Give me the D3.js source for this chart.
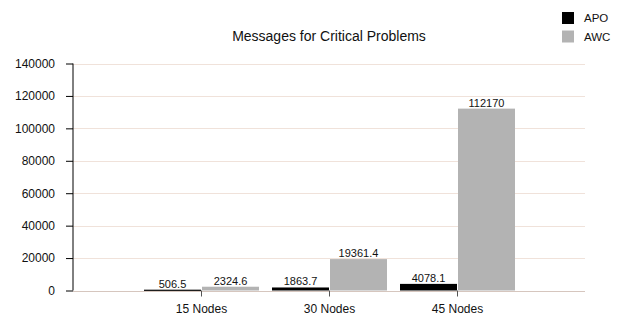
<!DOCTYPE html>
<html><head><meta charset="utf-8">
<script src="https://cdn.jsdelivr.net/npm/d3@7"></script>
<style>
body{margin:0;background:#fff;}
svg{display:block;font-family:"Liberation Sans",Arial,sans-serif;}
</style></head>
<body><svg id="chart" width="623" height="320"></svg>
<script>
const categories = ["15 Nodes", "30 Nodes", "45 Nodes"];
const seriesNames = ["APO", "AWC"];
const apoValues = [506.5, 1863.7, 4078.1];
const awcValues = [2324.6, 19361.4, 112170];
const yTicks = [0, 20000, 40000, 60000, 80000, 100000, 120000, 140000];
const colors = ["#000000", "#b3b3b3"];

const svg = d3.select("#chart");
const x = d3.scalePoint().domain(categories).range([73, 585]).padding(1);
const y = d3.scaleLinear().domain([0, 140000]).range([290.5, 63.5]);

// gridlines
svg.append("g").selectAll("line").data(yTicks).join("line")
  .attr("x1", 73).attr("x2", 585)
  .attr("y1", d => Math.round(y(d)) + 0.5).attr("y2", d => Math.round(y(d)) + 0.5)
  .attr("stroke", d => d === 0 ? "#d6c6be" : "#f0e2da").attr("stroke-width", 1);

// bars
const barW = 57;
const series = [apoValues, awcValues];
series.forEach((vals, si) => {
  const g = svg.append("g");
  g.selectAll("rect").data(vals).join("rect")
    .attr("x", (d, i) => si === 0 ? x(categories[i]) - barW : x(categories[i]) + 1)
    .attr("width", barW)
    .attr("y", d => y(d))
    .attr("height", d => Math.max(y(0) - y(d), 1.2))
    .attr("fill", colors[si]);
  g.selectAll("text").data(vals).join("text")
    .attr("x", (d, i) => si === 0 ? x(categories[i]) - barW / 2 : x(categories[i]) + 1 + barW / 2)
    .attr("y", d => Math.min(y(d), y(0) - 1) - 2)
    .attr("text-anchor", "middle")
    .attr("font-size", 11).attr("fill", "#111")
    .text(d => d);
});

// y axis
const yAxis = svg.append("g").attr("transform", "translate(73,0)")
  .call(d3.axisLeft(y).tickValues(yTicks).tickSize(7).tickPadding(11).tickFormat(d3.format("d")));
yAxis.select(".domain").attr("stroke", "#000").attr("d", `M0,${y(140000)}V${y(0)}`);
yAxis.selectAll(".tick line").attr("stroke", "#000");
yAxis.selectAll("text").attr("font-size", 12).attr("fill", "#111").attr("font-family", "Liberation Sans, Arial, sans-serif");

// x axis
const xAxis = svg.append("g").attr("transform", `translate(0,${y(0)})`)
  .call(d3.axisBottom(x).tickSize(6).tickPadding(8));
xAxis.select(".domain").remove();
xAxis.selectAll(".tick line").attr("stroke", "#555");
xAxis.selectAll("text").attr("font-size", 12).attr("fill", "#111").attr("font-family", "Liberation Sans, Arial, sans-serif");

// title
svg.append("text").attr("x", 329).attr("y", 41).attr("text-anchor", "middle")
  .attr("font-size", 14).attr("fill", "#111").text("Messages for Critical Problems");

// legend
const legend = svg.append("g");
seriesNames.forEach((name, i) => {
  legend.append("rect").attr("x", 562).attr("y", 12 + i * 18.5).attr("width", 12).attr("height", 12).attr("fill", colors[i]);
  legend.append("text").attr("x", 584).attr("y", 22 + i * 18.5).attr("font-size", 11.5).attr("fill", "#111").text(name);
});
</script></body></html>
